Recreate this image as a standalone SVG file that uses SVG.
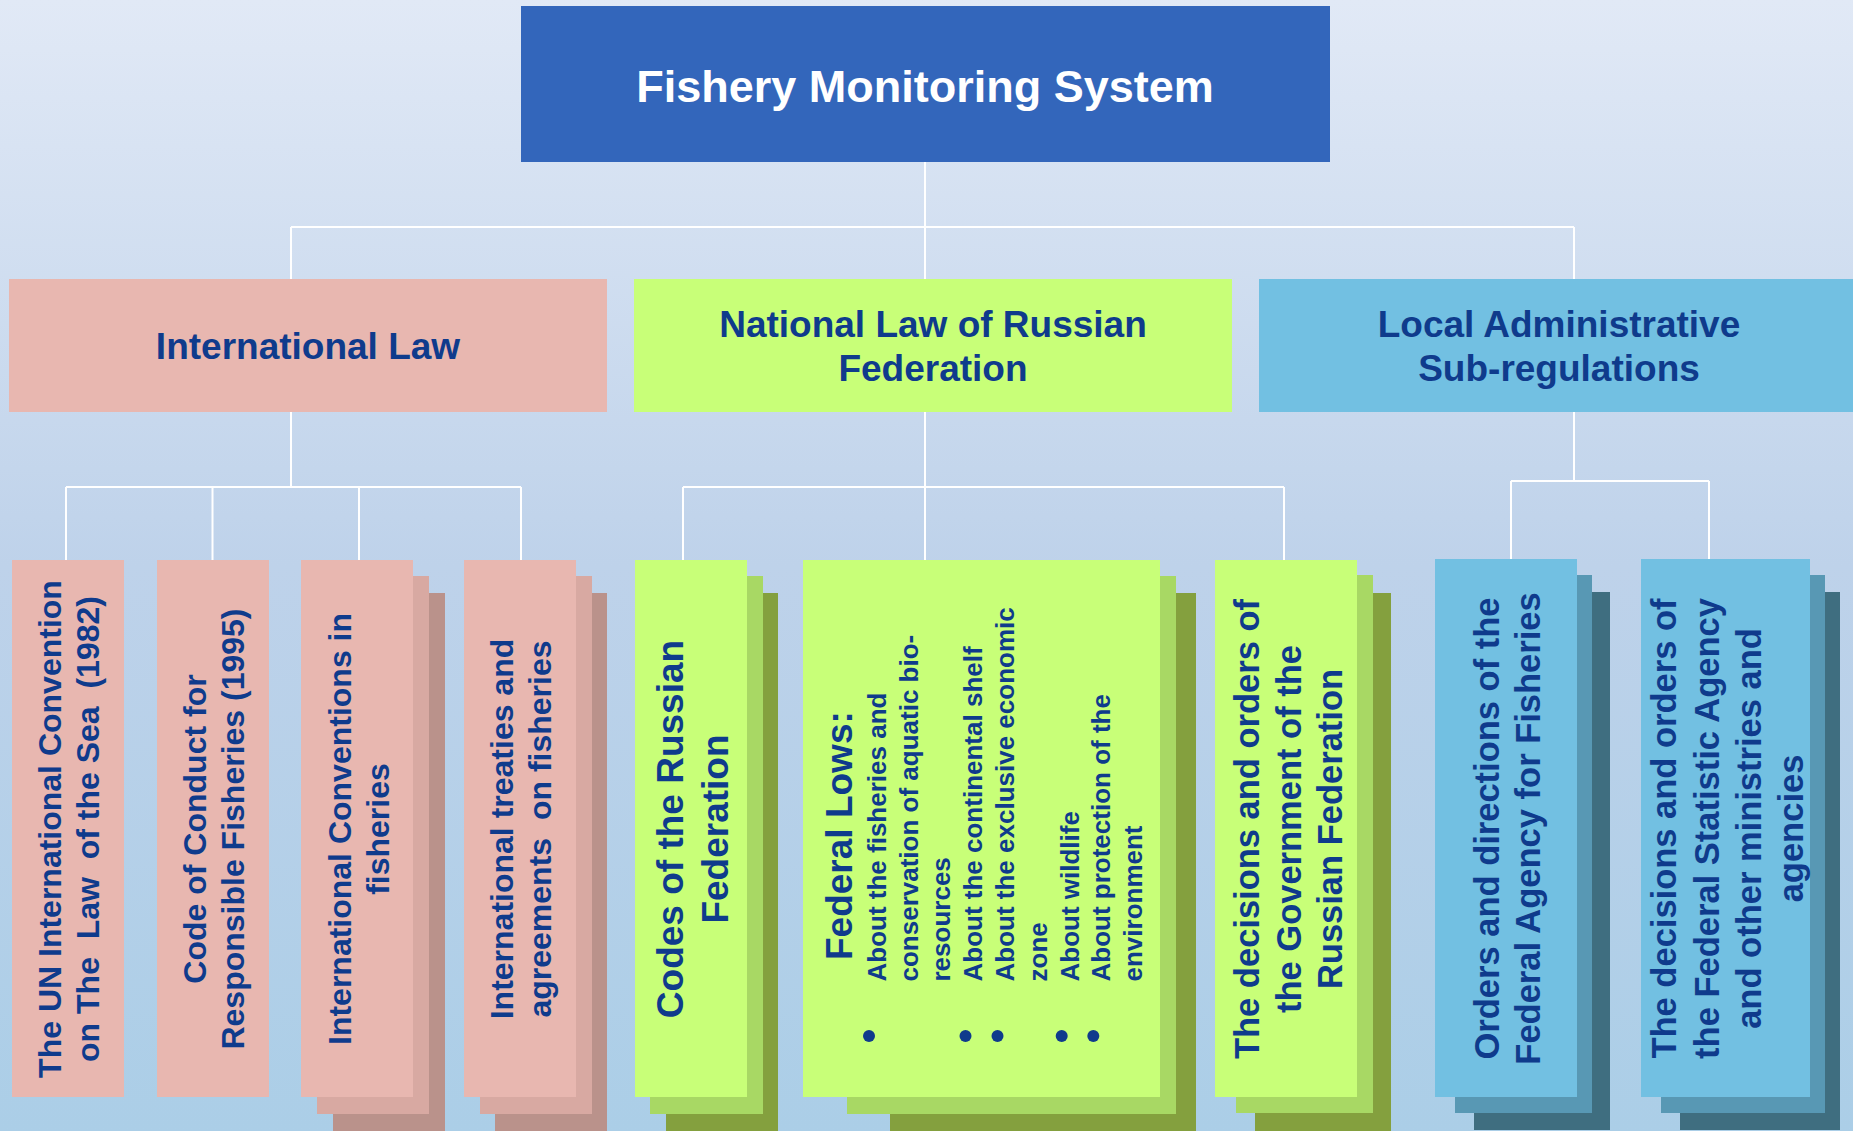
<svg xmlns="http://www.w3.org/2000/svg" width="1853" height="1131" viewBox="0 0 1853 1131">
<defs>
<linearGradient id="bg" x1="0" y1="0" x2="0" y2="1">
<stop offset="0" stop-color="#e1e9f6"/>
<stop offset="0.5" stop-color="#bed2ea"/>
<stop offset="1" stop-color="#abcee7"/>
</linearGradient>
<style>
.c{stroke:#fff;stroke-width:2;fill:none}
.pk{fill:#e8b7b0}.pk1{fill:#d8a9a2}.pk2{fill:#ba928b}
.gr{fill:#c8ff78}.gr1{fill:#a8d864}.gr2{fill:#84a03e}
.bl{fill:#72c0e2}.bl1{fill:#5898b4}.bl2{fill:#3f6e80}
.t{font-family:"Liberation Sans",Arial,sans-serif;font-weight:bold;fill:#0f3b8c;white-space:pre}
.m{text-anchor:middle}
.s32{font-size:32px}.s34{font-size:34.5px}.s37{font-size:37px}.s26{font-size:26px}
</style>
</defs>
<rect x="0" y="0" width="1853" height="1131" fill="url(#bg)"/>

<g id="connectors">
<path class="c" d="M925 162V227M291 227H1574M291 227V279M925 227V279M1574 227V279"/>
<path class="c" d="M291 412V487M66 487H521M66 487V560M212.5 487V560M359 487V560M521 487V560"/>
<path class="c" d="M925 412V487M683 487H1284M683 487V560M925 487V560M1284 487V560"/>
<path class="c" d="M1574 412V481M1511 481H1709M1511 481V559M1709 481V559"/>
</g>

<g id="fishery-monitoring-system">
<rect x="521" y="6" width="809" height="156" fill="#3366bb"/>
<text class="t m" x="925" y="102" style="font-size:45px;fill:#fff">Fishery Monitoring System</text>
</g>

<g id="international-law">
<rect class="pk" x="9" y="279" width="598" height="133"/>
<text class="t m s37" x="308" y="359">International Law</text>
</g>

<g id="national-law">
<rect class="gr" x="634" y="279" width="598" height="133"/>
<text class="t m s37" x="933" y="337">National Law of Russian</text>
<text class="t m s37" x="933" y="381">Federation</text>
</g>

<g id="local-administrative">
<rect class="bl" x="1259" y="279" width="600" height="133"/>
<text class="t m s37" x="1559" y="337">Local Administrative</text>
<text class="t m s37" x="1559" y="381">Sub-regulations</text>
</g>

<g id="un-convention">
<rect class="pk" x="12" y="560" width="112" height="537"/>
<text class="t m s32" transform="translate(0,829) rotate(-90)"><tspan x="0" y="61">The UN International Convention</tspan><tspan x="0" y="99">on The  Law  of the Sea  (1982)</tspan></text>
</g>

<g id="code-of-conduct">
<rect class="pk" x="157" y="560" width="112" height="537"/>
<text class="t m s32" transform="translate(0,829) rotate(-90)"><tspan x="0" y="206">Code of Conduct for</tspan><tspan x="0" y="244">Responsible Fisheries (1995)</tspan></text>
</g>

<g id="international-conventions">
<rect class="pk2" x="333" y="593" width="112" height="538"/>
<rect class="pk1" x="317" y="576" width="112" height="538"/>
<rect class="pk" x="301" y="560" width="112" height="537"/>
<text class="t m s32" transform="translate(0,829) rotate(-90)"><tspan x="0" y="351">International Conventions in</tspan><tspan x="0" y="389">fisheries</tspan></text>
</g>

<g id="international-treaties">
<rect class="pk2" x="495" y="593" width="112" height="538"/>
<rect class="pk1" x="480" y="576" width="112" height="538"/>
<rect class="pk" x="464" y="560" width="112" height="537"/>
<text class="t m s32" transform="translate(0,829) rotate(-90)"><tspan x="0" y="513">International treaties and</tspan><tspan x="0" y="551">agreements  on fisheries</tspan></text>
</g>

<g id="codes-russian-federation">
<rect class="gr2" x="666" y="593" width="112" height="538"/>
<rect class="gr1" x="650" y="576" width="113" height="538"/>
<rect class="gr" x="635" y="560" width="112" height="537"/>
<text class="t m s37" transform="translate(0,829) rotate(-90)"><tspan x="0" y="682.5">Codes of the Russian</tspan><tspan x="0" y="727.5">Federation</tspan></text>
</g>

<g id="federal-lows">
<rect class="gr2" x="890" y="593" width="306" height="538"/>
<rect class="gr1" x="847" y="576" width="329" height="538"/>
<rect class="gr" x="803" y="560" width="357" height="537"/>
<text class="t s37" transform="translate(0,960) rotate(-90)" x="0" y="851.5">Federal Lows:</text>
<text class="t s26" transform="translate(0,981.5) rotate(-90)"><tspan x="0" y="886">About the fisheries and</tspan><tspan x="0" y="918.3">conservation of aquatic bio-</tspan><tspan x="0" y="950">resources</tspan><tspan x="0" y="981.7">About the continental shelf</tspan><tspan x="0" y="1013.5">About the exclusive economic</tspan><tspan x="0" y="1046.5">zone</tspan><tspan x="0" y="1078.5">About wildlife</tspan><tspan x="0" y="1110">About protection of the</tspan><tspan x="0" y="1142">environment</tspan></text>
<g fill="#0f3b8c">
<circle cx="869" cy="1036" r="6"/>
<circle cx="965.5" cy="1036" r="6"/>
<circle cx="997.5" cy="1036" r="6"/>
<circle cx="1061.7" cy="1036" r="6"/>
<circle cx="1093.3" cy="1036" r="6"/>
</g>
</g>

<g id="decisions-government">
<rect class="gr2" x="1255" y="593" width="136" height="538"/>
<rect class="gr1" x="1236" y="575" width="137" height="538"/>
<rect class="gr" x="1215" y="560" width="142" height="537"/>
<text class="t m s34" transform="translate(0,829) rotate(-90)"><tspan x="0" y="1259">The decisions and orders of</tspan><tspan x="0" y="1300.5">the Government of the</tspan><tspan x="0" y="1341.5">Russian Federation</tspan></text>
</g>

<g id="orders-federal-agency">
<rect class="bl2" x="1474" y="592" width="136" height="538"/>
<rect class="bl1" x="1455" y="575" width="137" height="538"/>
<rect class="bl" x="1435" y="559" width="142" height="538"/>
<text class="t m s34" transform="translate(0,828.5) rotate(-90)"><tspan x="0" y="1499">Orders and directions of the</tspan><tspan x="0" y="1540">Federal Agency for Fisheries</tspan></text>
</g>

<g id="decisions-statistic-agency">
<rect class="bl2" x="1680" y="592" width="160" height="538"/>
<rect class="bl1" x="1661" y="575" width="164" height="538"/>
<rect class="bl" x="1641" y="559" width="169" height="538"/>
<text class="t m s34" transform="translate(0,828.5) rotate(-90)"><tspan x="0" y="1676">The decisions and orders of</tspan><tspan x="0" y="1718.5">the Federal Statistic Agency</tspan><tspan x="0" y="1761">and other ministries and</tspan><tspan x="0" y="1803">agencies</tspan></text>
</g>
</svg>
